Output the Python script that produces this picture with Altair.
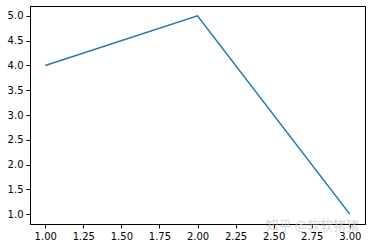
import altair as alt
import pandas as pd

xs = [1, 2, 3]
ys = [4, 5, 1]
x_ticks = [1.0, 1.25, 1.5, 1.75, 2.0, 2.25, 2.5, 2.75, 3.0]
y_ticks = [1.0, 1.5, 2.0, 2.5, 3.0, 3.5, 4.0, 4.5, 5.0]
watermark = ["知乎 @软软猪猪"]

df = pd.DataFrame({"x": xs, "y": ys})

axis_common = dict(
    grid=False,
    domainColor="black",
    domainWidth=1,
    tickColor="black",
    tickWidth=1,
    tickSize=4,
    labelFontSize=10,
    labelColor="#000000",
    labelFont="DejaVu Sans",
    labelPadding=3,
    title=None,
)

line = alt.Chart(df).mark_line(color="#1f77b4", strokeWidth=1.5).encode(
    x=alt.X("x:Q", scale=alt.Scale(domain=[0.9, 3.1], nice=False, zero=False),
            axis=alt.Axis(values=x_ticks, format=".2f", **axis_common)),
    y=alt.Y("y:Q", scale=alt.Scale(domain=[0.8, 5.2], nice=False, zero=False),
            axis=alt.Axis(values=y_ticks, format=".1f", **axis_common)),
)

wm = alt.Chart(pd.DataFrame({"t": watermark})).mark_text(
    color="#c8c8c8", fontSize=13, font="Noto Sans CJK SC", align="right", baseline="middle", opacity=0.75
).encode(text="t:N", x=alt.value(329), y=alt.value(220))

chart = (line + wm).properties(
    width=335, height=218,
    background="white",
    autosize=alt.AutoSizeParams(type="none"),
    padding={"left": 30, "top": 6, "right": 7, "bottom": 24},
).configure_view(stroke="black", strokeWidth=1)

chart.save("out.html", embed_options={"renderer": "svg", "actions": False})
